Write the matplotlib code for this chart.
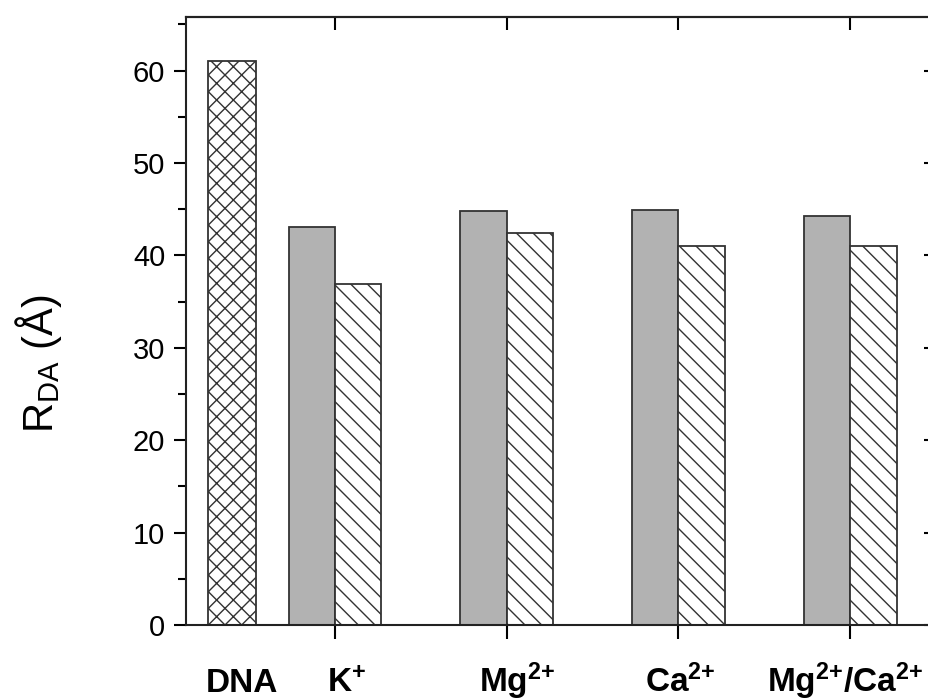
import matplotlib
matplotlib.use('Agg')
import matplotlib.pyplot as plt
import numpy as np
from matplotlib.ticker import MultipleLocator

plt.rcParams['font.family'] = ['Liberation Sans', 'DejaVu Sans']
plt.rcParams['mathtext.fontset'] = 'custom'
plt.rcParams['mathtext.rm'] = 'Liberation Sans'
plt.rcParams['mathtext.bf'] = 'Liberation Sans:bold'
plt.rcParams['mathtext.it'] = 'Liberation Sans:italic'
plt.rcParams['hatch.linewidth'] = 1.0

# data
dna_label = 'DNA'
dna_value = 61.0
ion_labels = [r'$\mathbf{K^{{+}}}$', r'$\mathbf{Mg^{2{+}}}$',
              r'$\mathbf{Ca^{2{+}}}$', r'$\mathbf{Mg^{2{+}}/Ca^{2{+}}}$']
solid_vals = [43.1, 44.8, 44.9, 44.3]     # grey bars
hatched_vals = [36.9, 42.4, 41.0, 41.0]   # hatched bars

x = np.arange(1, len(ion_labels) + 1)
dna_x = 0.4
w = 0.27
edge = '#333333'
# label centres are hand placed in the original, a bit off the ticks
label_x = [0.455, 1.065, 2.06, 3.01, 3.97]

fig = plt.figure(figsize=(9.29, 7.0), dpi=100)
ax = fig.add_axes([186/929, 75/700, 750/929, 608/700])  # right spine falls just off the picture

ax.bar(dna_x, dna_value, width=0.28, facecolor='white', edgecolor=edge, hatch='xx', lw=1.3)
ax.bar(x, solid_vals, width=-w, align='edge', color='#b2b2b2', edgecolor=edge, lw=1.3)
ax.bar(x, hatched_vals, width=w, align='edge', facecolor='white', edgecolor=edge,
       hatch='\\\\', lw=1.3)

ax.set_xlim(0.132, 4.5)
ax.set_ylim(0, 65.8)

for s in ax.spines.values():
    s.set_linewidth(1.5)
    s.set_color('#222222')

# bottom / left: outward ticks
ax.set_xticks(x)
ax.set_xticklabels([])
ax.tick_params(axis='x', direction='out', length=10, width=1.5, top=False)
trans = ax.get_xaxis_transform()
for lx, lab in zip(label_x, [dna_label] + ion_labels):
    ax.text(lx, -0.110, lab, transform=trans, ha='center', va='baseline',
            fontsize=24, fontweight='bold')

ax.yaxis.set_major_locator(MultipleLocator(10))
ax.yaxis.set_minor_locator(MultipleLocator(5))
ax.tick_params(axis='y', which='major', direction='out', length=9, width=1.5,
               labelsize=21, pad=6, right=False)
ax.tick_params(axis='y', which='minor', direction='out', length=6, width=1.5, right=False)

# top / right: inward ticks
top = ax.secondary_xaxis('top')
top.set_xticks(x)
top.tick_params(direction='in', length=9, width=1.5, labeltop=False)
top.spines['top'].set_linewidth(1.5)

right = ax.secondary_yaxis('right')
right.yaxis.set_major_locator(MultipleLocator(10))
right.yaxis.set_minor_locator(MultipleLocator(5))
right.tick_params(which='major', direction='in', length=9, width=1.5, labelright=False)
right.tick_params(which='minor', direction='in', length=6, width=1.5, labelright=False)

ax.set_ylabel(r'R$_{\rm DA}$ (Å)', fontsize=30, va='center')
ax.yaxis.set_label_coords(-0.197, 0.43)

fig.savefig('out.png', dpi=100)
